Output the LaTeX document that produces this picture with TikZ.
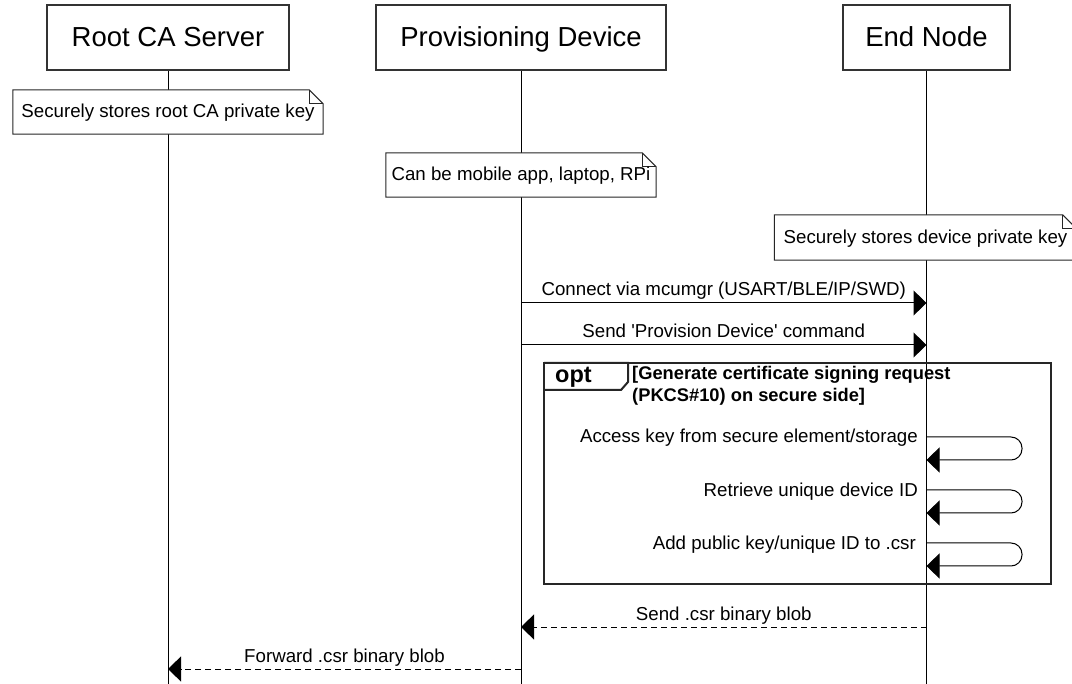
\documentclass[tikz,border=0pt]{standalone}
\usepackage{fontspec}
\setmainfont{Liberation Sans}
\usetikzlibrary{arrows.meta,calc}
\pgfdeclarelayer{back}
\pgfdeclarelayer{mid}
\pgfsetlayers{back,mid,main}
\newcommand\fhdr{\fontsize{27.5}{33}\selectfont}
\newcommand\fmsg{\fontsize{18.7}{22}\selectfont}
\newcommand\fcond{\fontsize{18.3}{22}\selectfont\bfseries}
\newcommand\fopt{\fontsize{23.5}{28}\selectfont\bfseries}
\newcommand\drawnote[1]{%
  \begin{pgfonlayer}{mid}
  \draw[notedraw] (#1.north west) -- ($(#1.north east)+(-14,0)$) -- ($(#1.north east)+(0,14)$) -- (#1.south east) -- (#1.south west) -- cycle;
  \draw[notedraw,fill=none] ($(#1.north east)+(-14,0)$) -- ($(#1.north east)+(-14,14)$) -- ($(#1.north east)+(0,14)$);
  \end{pgfonlayer}}
\begin{document}
\begin{tikzpicture}[x=1pt,y=-1pt,
  part/.style={draw=black!80,line width=1.5pt,fill=white,minimum height=65pt,inner sep=0pt,font=\fhdr,text height=19pt,text depth=0pt},
  life/.style={line width=1pt,black},
  notebox/.style={inner sep=0pt,minimum height=44pt,font=\fmsg,text height=12pt,text depth=0pt},
  notedraw/.style={draw=black!85,line width=1pt,fill=white},
  msgline/.style={line width=1pt,black,-{Triangle[length=13pt,width=25pt]}},
  retline/.style={msgline,dash pattern=on 6pt off 4pt},
  lbl/.style={font=\fmsg,anchor=base,inner sep=0pt},
  slbl/.style={font=\fmsg,anchor=base east,inner sep=0pt},
  frame/.style={draw=black!85,line width=2pt},
]
\useasboundingbox (0,0) rectangle (1072,684);
\begin{pgfonlayer}{back}
\fill[white] (0,0) rectangle (1072,684);
\end{pgfonlayer}

% participants
\node[part,minimum width=242pt] (rca) at (168,37.5) {Root CA Server};
\node[part,minimum width=290pt] (pd) at (521,37.5) {Provisioning Device};
\node[part,minimum width=167pt] (en) at (926.5,37.5) {End Node};

% lifelines
\coordinate (rcaE) at (rca.south |- 0,684);
\coordinate (pdE) at (pd.south |- 0,684);
\coordinate (enE) at (en.south |- 0,684);
\begin{pgfonlayer}{back}
\draw[life] (rca.south) -- (rcaE);
\draw[life] (pd.south) -- (pdE);
\draw[life] (en.south) -- (enE);
\end{pgfonlayer}

% notes
\node[notebox,minimum width=310pt] (n1) at (168,112) {Securely stores root CA private key};
\drawnote{n1}
\node[notebox,minimum width=270pt] (n2) at (521,175) {Can be mobile app, laptop, RPi};
\drawnote{n2}
\node[notebox,minimum width=302pt,minimum height=45pt] (n3) at (925.5,237.5) {Securely stores device private key};
\drawnote{n3}

% messages
\coordinate (m1a) at (pd.south |- 0,303);
\coordinate (m1b) at (en.south |- 0,303);
\draw[msgline] (m1a) -- (m1b);
\node[lbl] (m1l) at ($(m1a)!0.5!(m1b)+(0,-7)$) {Connect via mcumgr (USART/BLE/IP/SWD)};

\coordinate (m2a) at (pd.south |- 0,345);
\coordinate (m2b) at (en.south |- 0,345);
\draw[msgline] (m2a) -- (m2b);
\node[lbl] (m2l) at ($(m2a)!0.5!(m2b)+(0,-7)$) {Send \textquotesingle Provision Device\textquotesingle\ command};

% opt frame
\draw[frame] (544,363) rectangle (1051,584);
\draw[frame,line join=miter] (544,363) -- (628,363) -- (628,382) -- (621,390) -- (544,390);
\node[font=\fopt,anchor=base west,inner sep=0pt] (optl) at (555,383) {opt};
\node[font=\fcond,anchor=base west,inner sep=0pt] (c1) at (632,380) {[Generate certificate signing request};
\node[font=\fcond,anchor=base west,inner sep=0pt] (c2) at (632,402) {(PKCS\#10) on secure side]};

% self messages
\coordinate (s1a) at (en.south |- 0,437);
\coordinate (s1b) at (en.south |- 0,460);
\draw[msgline,rounded corners=11pt] (s1a) -- (1022,437) -- (1022,460) -- (s1b);
\node[slbl] (s1l) at (918,443) {Access key from secure element/storage};

\coordinate (s2a) at (en.south |- 0,490);
\coordinate (s2b) at (en.south |- 0,513);
\draw[msgline,rounded corners=11pt] (s2a) -- (1022,490) -- (1022,513) -- (s2b);
\node[slbl] (s2l) at (918,497) {Retrieve unique device ID};

\coordinate (s3a) at (en.south |- 0,543);
\coordinate (s3b) at (en.south |- 0,566);
\draw[msgline,rounded corners=11pt] (s3a) -- (1022,543) -- (1022,566) -- (s3b);
\node[slbl] (s3l) at (916,550) {Add public key/unique ID to .csr};

% returns
\coordinate (r1a) at (en.south |- 0,627);
\coordinate (r1b) at (pd.south |- 0,627);
\draw[retline] (r1a) -- (r1b);
\node[lbl] (r1l) at ($(r1a)!0.5!(r1b)+(0,-7)$) {Send .csr binary blob};

\coordinate (r2a) at (pd.south |- 0,669);
\coordinate (r2b) at (rca.south |- 0,669);
\draw[retline] (r2a) -- (r2b);
\node[lbl] (r2l) at ($(r2a)!0.5!(r2b)+(0,-7)$) {Forward .csr binary blob};
\end{tikzpicture}
\end{document}
